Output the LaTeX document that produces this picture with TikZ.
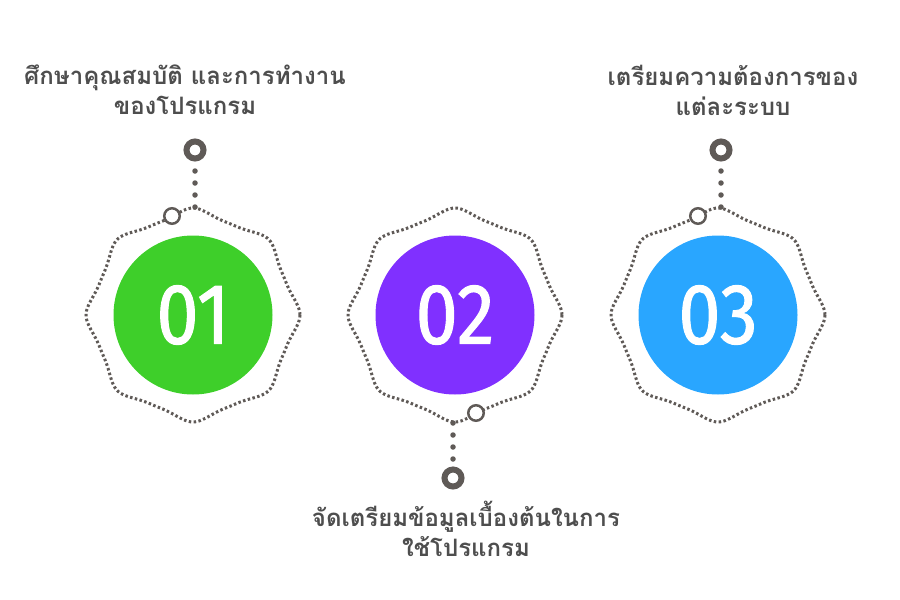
\documentclass[tikz,border=0pt]{standalone}
\usepackage{fontspec}
\setmainfont{Fira Sans}
\newfontfamily\thaifont[Script=Thai]{Loma}
\newfontfamily\numfont[FakeBold=1.2]{Fira Sans}
\definecolor{ggray}{RGB}{95,90,87}
\definecolor{tgray}{RGB}{78,78,78}
\definecolor{cgreen}{RGB}{62,207,42}
\definecolor{cpurple}{RGB}{128,48,255}
\definecolor{cblue}{RGB}{41,166,255}
\newcommand{\numtxt}[1]{\scalebox{0.88}[1]{\numfont\fontsize{86}{86}\selectfont #1}}
\tikzset{
  declare function={uu(\t)=abs(mod(\t,45)-22.5)/22.5; rr(\t)=98.5+8.5*uu(\t)^3*(4-3*uu(\t));},
  numdisc/.style={circle, minimum size=159pt, inner sep=0pt, text=white},
  outline/.style={draw=ggray, line width=3pt, dash pattern=on 2.5pt off 2.4pt},
  bigring/.style={circle, draw=ggray, line width=6pt, minimum size=17pt, inner sep=0pt},
  smallring/.style={circle, draw=ggray, fill=white, line width=2.5pt, minimum size=15.5pt, inner sep=0pt},
  dotline/.style={draw=ggray, line width=5.5pt, line cap=round, dash pattern=on 0pt off 12pt},
  label/.style={text=tgray, align=center, font=\thaifont\bfseries\fontsize{24}{30}\selectfont}
}
\begin{document}
\begin{tikzpicture}[x=1pt,y=-1pt]
\useasboundingbox (0,0) rectangle (900,600);
% outlines
\foreach \cx in {193,455,718}{
  \draw[outline] plot[domain=0:360, samples=361, smooth] ({\cx+rr(\x)*cos(\x)}, {315+rr(\x)*sin(\x)}) -- cycle;
}
% discs
\node[numdisc, fill=cgreen] (c1) at (193,315) {\numtxt{01}};
\node[numdisc, fill=cpurple] (c2) at (455,315) {\numtxt{02}};
\node[numdisc, fill=cblue] (c3) at (718,315) {\numtxt{03}};
% connector 1
\coordinate (a1) at (195,171);
\coordinate (b1) at (195,208);
\draw[dotline] (a1) -- (b1);
\node[bigring] (r1) at (195,150) {};
\node[smallring] (s1) at (172,216) {};
% connector 2
\coordinate (a2) at (453,423);
\coordinate (b2) at (453,460);
\draw[dotline] (a2) -- (b2);
\node[bigring] (r2) at (453,478) {};
\node[smallring] (s2) at (476,413) {};
% connector 3
\coordinate (a3) at (721,171);
\coordinate (b3) at (721,208);
\draw[dotline] (a3) -- (b3);
\node[bigring] (r3) at (721,150) {};
\node[smallring] (s3) at (698,216) {};
% labels
\node[label] (t1) at (185,90) {ศึกษาคุณสมบัติ และการทำงาน\\ของโปรแกรม};
\node[label] (t2) at (466,529) {จัดเตรียมข้อมูลเบื้องต้นในการ\\ใช้โปรแกรม};
\node[label] (t3) at (733,90) {เตรียมความต้องการของ\\แต่ละระบบ};
\end{tikzpicture}
\end{document}
